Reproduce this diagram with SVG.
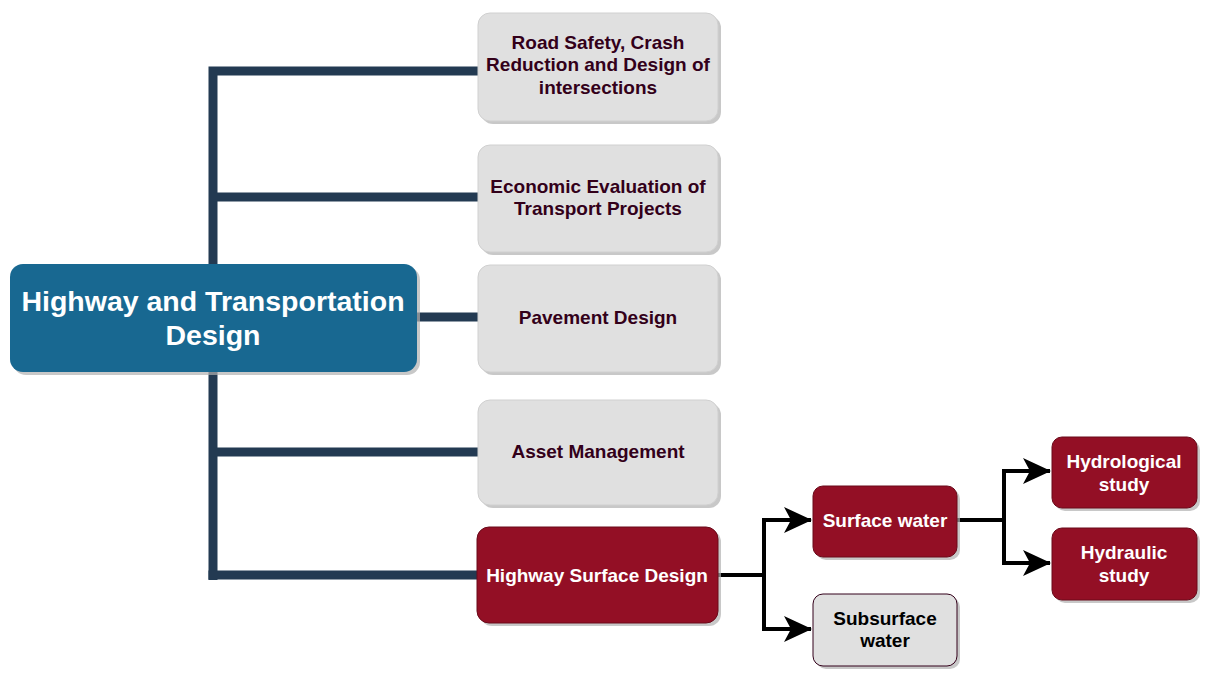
<svg xmlns="http://www.w3.org/2000/svg" width="1206" height="690" viewBox="0 0 1206 690">
<defs>
<style>
text{font-family:"Liberation Sans",Arial,sans-serif;font-weight:bold;text-anchor:middle;dominant-baseline:central}
.sh{fill:#b0b0b0;opacity:0.7}
.gray{fill:#e0e0e0;stroke:#d0d0d0;stroke-width:1}
.red{fill:#930f25;stroke:#6a0a1a;stroke-width:1}
.sub{fill:#e0e0e0;stroke:#33001a;stroke-width:1}
.gt{fill:#33001a;font-size:19px}
.wt{fill:#ffffff;font-size:19px}
.bt{fill:#000000;font-size:19px}
.trunk{stroke:#233a52;stroke-width:9;fill:none}
.blk{stroke:#000;stroke-width:4;fill:none}
</style>
<marker id="arr" viewBox="0 0 28 26" refX="27" refY="13" markerWidth="28" markerHeight="26" markerUnits="userSpaceOnUse" orient="auto">
<path d="M0,0 L28,13 L0,26 L7,13 Z" fill="#000"/>
</marker>
</defs>
<g id="connectors">
<path class="trunk" d="M213,580 V71 H482"/>
<path class="trunk" d="M213,197 H478"/>
<path class="trunk" d="M417,317 H478"/>
<path class="trunk" d="M213,452 H478"/>
<path class="trunk" d="M208.5,575 H478"/>
<path class="blk" d="M718,575 H764 V520 H811" marker-end="url(#arr)"/>
<path class="blk" d="M764,573 V629 H811" marker-end="url(#arr)"/>
<path class="blk" d="M957,520 H1004 V471 H1050" marker-end="url(#arr)"/>
<path class="blk" d="M1004,518 V563 H1050" marker-end="url(#arr)"/>
</g>
<g id="main">
<rect class="sh" x="13" y="267" width="407" height="108" rx="13"/>
<rect x="10" y="264" width="407" height="108" rx="13" fill="#186891"/>
<text x="213" y="301" fill="#fff" font-size="28.5">Highway and Transportation</text>
<text x="213" y="335" fill="#fff" font-size="28.5">Design</text>
</g>
<g id="road-safety">
<rect class="sh" x="481" y="16" width="240" height="108" rx="12"/>
<rect class="gray" x="478" y="13" width="240" height="108" rx="12"/>
<text class="gt" x="598" y="42">Road Safety, Crash</text>
<text class="gt" x="598" y="64">Reduction and Design of</text>
<text class="gt" x="598" y="87">intersections</text>
</g>
<g id="economic">
<rect class="sh" x="481" y="148" width="240" height="107" rx="12"/>
<rect class="gray" x="478" y="145" width="240" height="107" rx="12"/>
<text class="gt" x="598" y="186">Economic Evaluation of</text>
<text class="gt" x="598" y="208">Transport Projects</text>
</g>
<g id="pavement">
<rect class="sh" x="481" y="268" width="240" height="107" rx="12"/>
<rect class="gray" x="478" y="265" width="240" height="107" rx="12"/>
<text class="gt" x="598" y="317">Pavement Design</text>
</g>
<g id="asset">
<rect class="sh" x="481" y="403" width="240" height="105" rx="12"/>
<rect class="gray" x="478" y="400" width="240" height="105" rx="12"/>
<text class="gt" x="598" y="451">Asset Management</text>
</g>
<g id="highway-surface">
<rect class="sh" x="480" y="530" width="241" height="96" rx="12"/>
<rect class="red" x="477" y="527" width="241" height="96" rx="12"/>
<text class="wt" x="597" y="575">Highway Surface Design</text>
</g>
<g id="surface-water">
<rect class="sh" x="816" y="489" width="144" height="71" rx="10"/>
<rect class="red" x="813" y="486" width="144" height="71" rx="10"/>
<text class="wt" x="885" y="520">Surface water</text>
</g>
<g id="subsurface-water">
<rect class="sh" x="816" y="597" width="144" height="72" rx="10"/>
<rect class="sub" x="813" y="594" width="144" height="72" rx="10"/>
<text class="bt" x="885" y="618">Subsurface</text>
<text class="bt" x="885" y="640">water</text>
</g>
<g id="hydrological">
<rect class="sh" x="1055" y="440" width="145" height="71" rx="10"/>
<rect class="red" x="1052" y="437" width="145" height="71" rx="10"/>
<text class="wt" x="1124" y="461">Hydrological</text>
<text class="wt" x="1124" y="484">study</text>
</g>
<g id="hydraulic">
<rect class="sh" x="1055" y="531" width="145" height="72" rx="10"/>
<rect class="red" x="1052" y="528" width="145" height="72" rx="10"/>
<text class="wt" x="1124" y="552">Hydraulic</text>
<text class="wt" x="1124" y="575">study</text>
</g>
</svg>
